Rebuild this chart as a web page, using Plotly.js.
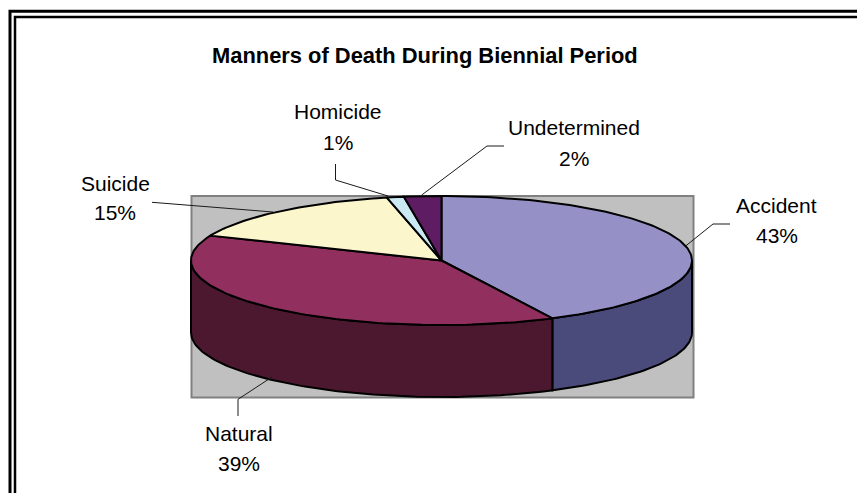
<!DOCTYPE html>
<html>
<head>
<meta charset="utf-8">
<script src="https://cdn.plot.ly/plotly-3.0.1.min.js"></script>
<style>html,body{margin:0;padding:0;background:#fff;overflow:hidden}#chart{width:857px;height:493px}</style>
</head>
<body>
<div id="chart"></div>
<script>
// Data
var categories = ['Accident', 'Natural', 'Suicide', 'Homicide', 'Undetermined'];
var shares = [42.7, 38.6, 15.2, 1.1, 2.4];
var topColors = ['#9591c6', '#91305f', '#fbf6cc', '#cbe9f2', '#5e1c62'];
var wallColors = ['#4b4b7b', '#4b182f', '#7d7b66', '#657579', '#2f0e31'];
var titleText = 'Manners of Death During Biennial Period';

// Label placement (centre x, first line y, second line y)
var labelX = [776.5, 238.5, 115, 338, 574];
var labelY1 = [205.5, 433, 183, 111.5, 127];
var labelY2 = [235.5, 463, 212.5, 142, 158.5];

// Leader line paths, one per category
var leaderX = [[730, 713, 686], [238, 238, 272], [152, 273], [335.5, 335.5, 388], [504, 487, 421.7]];
var leaderY = [[224, 224, 245.7], [416, 399.3, 377], [202.3, 212], [164, 180, 196], [146, 146, 195]];

// Pie projection
var cx = 441.5, cy = 260.5, rx = 250.5, ry = 64.5, depth = 72;

function px(a) { return cx + rx * Math.sin(a); }
function py(a) { return cy - ry * Math.cos(a); }
function arc(a0, a1) {
  var n = Math.max(2, Math.ceil(Math.abs(a1 - a0) / 0.02)), out = [];
  for (var i = 0; i <= n; i++) out.push(a0 + (a1 - a0) * i / n);
  return out;
}

var total = shares.reduce(function (s, v) { return s + v; }, 0);
var traces = [], tops = [], start = 0;

categories.forEach(function (name, i) {
  var a0 = start / total * 2 * Math.PI;
  start += shares[i];
  var a1 = start / total * 2 * Math.PI;

  // visible front wall: the part of the slice between 90 and 270 degrees
  var w0 = Math.max(a0, Math.PI / 2), w1 = Math.min(a1, 3 * Math.PI / 2);
  if (w1 > w0) {
    var edge = arc(w0, w1), back = edge.slice().reverse();
    traces.push({
      type: 'scatter', mode: 'lines', fill: 'toself', fillcolor: wallColors[i],
      line: { color: '#000', width: 2 }, hoverinfo: 'skip', showlegend: false,
      x: edge.map(px).concat(back.map(px), [px(w0)]),
      y: edge.map(py).concat(back.map(function (a) { return py(a) + depth; }), [py(w0)])
    });
  }

  var rim = arc(a0, a1);
  tops.push({
    type: 'scatter', mode: 'lines', fill: 'toself', fillcolor: topColors[i],
    line: { color: '#000', width: 2 }, name: name, hoverinfo: 'name', showlegend: false,
    x: [cx].concat(rim.map(px), [cx]),
    y: [cy].concat(rim.map(py), [cy])
  });
});

var leaders = categories.map(function (name, i) {
  return {
    type: 'scatter', mode: 'lines', x: leaderX[i], y: leaderY[i],
    line: { color: '#1a1a1a', width: 1 }, hoverinfo: 'skip', showlegend: false
  };
});

var textFont = { family: 'Liberation Sans, Arial, sans-serif', size: 21, color: '#000' };
var annotations = [{
  x: 425, y: 55.5, xref: 'x', yref: 'y', text: '<b>' + titleText + '</b>', showarrow: false,
  xanchor: 'center', yanchor: 'middle',
  font: { family: 'Liberation Sans, Arial, sans-serif', size: 21.9, color: '#000' }
}];
categories.forEach(function (name, i) {
  annotations.push({ x: labelX[i], y: labelY1[i], xref: 'x', yref: 'y', text: name, showarrow: false, xanchor: 'center', yanchor: 'middle', font: textFont });
  annotations.push({ x: labelX[i], y: labelY2[i], xref: 'x', yref: 'y', text: Math.round(shares[i]) + '%', showarrow: false, xanchor: 'center', yanchor: 'middle', font: textFont });
});

var shapes = [
  { type: 'rect', layer: 'below', xref: 'x', yref: 'y', x0: 191.5, x1: 693.5, y0: 196, y1: 397.5, fillcolor: '#c0c0c0', line: { color: '#808080', width: 2 } },
  { type: 'path', xref: 'x', yref: 'y', path: 'M10,493 L10,11.3 L857,11.3', line: { color: '#000', width: 3 } },
  { type: 'path', xref: 'x', yref: 'y', path: 'M15,493 L15,17 L857,17', line: { color: '#000', width: 2.5 } }
];

Plotly.newPlot('chart', traces.concat(tops, leaders), {
  width: 857, height: 493,
  margin: { l: 0, r: 0, t: 0, b: 0, pad: 0 },
  paper_bgcolor: '#fff', plot_bgcolor: '#fff',
  showlegend: false,
  xaxis: { range: [0, 857], visible: false, fixedrange: true },
  yaxis: { range: [493, 0], visible: false, fixedrange: true },
  shapes: shapes,
  annotations: annotations
}, { displayModeBar: false, staticPlot: true });
</script>
</body>
</html>
